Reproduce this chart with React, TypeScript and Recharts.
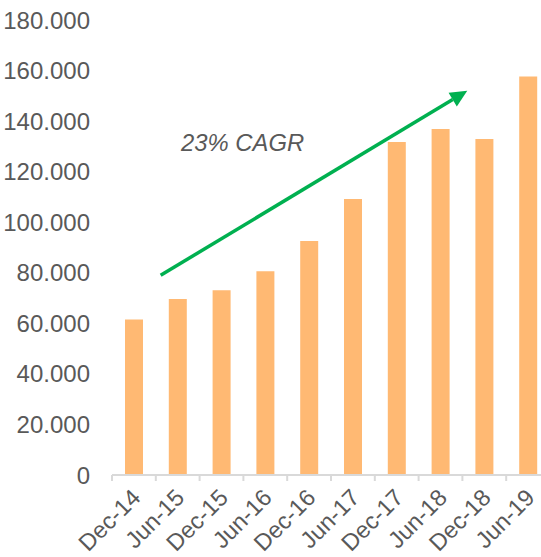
import React from 'react';
import { BarChart, Bar, XAxis, YAxis, ReferenceLine, ReferenceDot } from 'recharts';

const periods = ['Dec-14', 'Jun-15', 'Dec-15', 'Jun-16', 'Dec-16', 'Jun-17', 'Dec-17', 'Jun-18', 'Dec-18', 'Jun-19'];
const volumes = [61500, 69600, 73100, 80600, 92600, 109200, 131700, 136900, 132900, 157600];
const yTicks = [0, 20000, 40000, 60000, 80000, 100000, 120000, 140000, 160000, 180000];
// arrow / label positions on the hidden index axis (0 = first period)
const arrowFrom = { x: 1.0, y: 79000 };
const arrowTo = { x: 7.3, y: 152000 };
const cagrAt = { x: 1.42, y: 128000 };
const cagrLabel = '23% CAGR';

const data = periods.map((p, i) => ({ period: p, value: volumes[i] }));

const TEXT = '#595959';
const FONT = '"Liberation Sans", Arial, sans-serif';

const fmt = (v: number) => (v === 0 ? '0' : `${Math.round(v / 1000)}.000`);

const XTick = (props: any) => {
  const { x, y, payload } = props;
  const off = payload?.offset ?? 0;
  const tx = x + 8;
  const ty = y + 24;
  return (
    <g>
      <line x1={x - off} y1={y} x2={x - off} y2={y + 6} stroke="#d9d9d9" strokeWidth={2} />
      <text
        x={tx}
        y={ty}
        textAnchor="end"
        transform={`rotate(-45, ${tx}, ${ty})`}
        fill={TEXT}
        fontSize={23.5}
        fontFamily={FONT}
      >
        {payload.value}
      </text>
    </g>
  );
};

const Arrow = (props: any) => {
  const { x1, y1, x2, y2 } = props;
  const dx = x2 - x1;
  const dy = y2 - y1;
  const len = Math.sqrt(dx * dx + dy * dy);
  const ux = dx / len;
  const uy = dy / len;
  const head = 17;
  const half = 8;
  const bx = x2 - ux * head;
  const by = y2 - uy * head;
  return (
    <g>
      <line x1={x1} y1={y1} x2={bx} y2={by} stroke="#00b050" strokeWidth={3.5} />
      <polygon
        points={`${x2},${y2} ${bx - uy * half},${by + ux * half} ${bx + uy * half},${by - ux * half}`}
        fill="#00b050"
      />
    </g>
  );
};

const Cagr = (props: any) => (
  <text x={props.cx} y={props.cy} fill={TEXT} fontSize={23.8} fontStyle="italic" fontFamily={FONT}>
    {cagrLabel}
  </text>
);

export default function App() {
  return (
    <div style={{ position: 'absolute', left: 0, top: 0, width: 541, height: 557, overflow: 'hidden', background: '#fff' }}>
      <BarChart width={560} height={557} data={data} margin={{ top: 20, right: 10, left: 0, bottom: 0 }}>
        <XAxis
          xAxisId="cat"
          dataKey="period"
          height={82}
          interval={0}
          tickLine={false}
          tickSize={0}
          tickMargin={0}
          axisLine={{ stroke: '#d9d9d9', strokeWidth: 2 }}
          tick={<XTick />}
        />
        <XAxis xAxisId="pos" type="number" domain={[0, 9]} allowDataOverflow hide />
        <YAxis
          width={112}
          domain={[0, 180000]}
          ticks={yTicks}
          tickFormatter={fmt}
          axisLine={false}
          tickLine={false}
          tickMargin={16}
          tick={{ fill: TEXT, fontSize: 24, fontFamily: FONT }}
        />
        <Bar xAxisId="cat" dataKey="value" fill="#ffb973" barSize={18} isAnimationActive={false} />
        <ReferenceLine xAxisId="pos" segment={[arrowFrom, arrowTo]} shape={Arrow} />
        <ReferenceDot xAxisId="pos" x={cagrAt.x} y={cagrAt.y} r={0} shape={Cagr} />
      </BarChart>
    </div>
  );
}
